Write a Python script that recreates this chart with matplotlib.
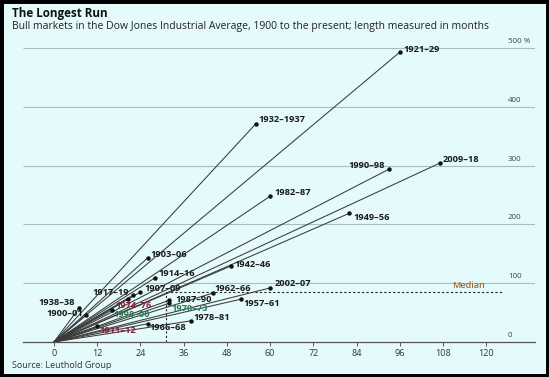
import matplotlib
matplotlib.use("Agg")
from matplotlib import pyplot as plt
from matplotlib.patches import Rectangle

plt.rcParams["font.family"] = ["Open Sans", "DejaVu Sans"]

# bull markets: label, length in months, gain in %
labels = ["1921–29", "1932–1937", "1990–98", "2009–18", "1982–87", "1949–56",
          "1903–06", "1914–16", "1942–46", "1907–09", "1917–19", "1974–76",
          "1998–00", "1938–38", "1900–01", "1911–12", "1966–68", "1987–90",
          "1970–73", "1962–66", "2002–07", "1957–61", "1978–81"]
months = [96, 56, 93, 107, 60, 82,
          26, 28, 49, 24, 22, 20.5,
          16, 7, 9, 12, 26, 32,
          32, 44, 60, 52, 38]
gains = [493, 371, 294, 304, 248, 219,
         143, 109, 129, 85, 80, 73,
         54, 58, 46, 27, 31, 71,
         66, 83, 92, 73, 36]

median_months = 31
median_gain = 85

x_ticks = [0, 12, 24, 36, 48, 60, 72, 84, 96, 108, 120]
y_ticks = [0, 100, 200, 300, 400, 500]

# label placement (pixel offset from dot, alignment) and colours
label_pos = {
    "1921–29": (4, 3, "left"), "1932–1937": (3, 4, "left"),
    "1990–98": (-4, 4, "right"), "2009–18": (3, 4, "left"),
    "1982–87": (4, 4, "left"), "1949–56": (4, -4, "left"),
    "1903–06": (3, 3, "left"), "1914–16": (4, 4, "left"),
    "1942–46": (4, 2, "left"), "1907–09": (4, 4, "left"),
    "1917–19": (-4, 2, "right"), "1974–76": (6, -6, "center"),
    "1998–00": (2, -4, "left"), "1938–38": (-4, 5, "right"),
    "1900–01": (-3, 1, "right"), "1911–12": (2, -4, "left"),
    "1966–68": (2, -4, "left"), "1987–90": (6, 1, "left"),
    "1970–73": (2, -5, "left"), "1962–66": (2, 5, "left"),
    "2002–07": (4, 4, "left"), "1957–61": (2, -4, "left"),
    "1978–81": (2, 3, "left"),
}
label_color = {"1974–76": "#8a2035", "1911–12": "#8a2035",
               "1998–00": "#2e7a50", "1970–73": "#2e7a50"}

bg = "#e4fafb"
W, H = 549, 377
fig = plt.figure(figsize=(W / 100, H / 100), dpi=100, facecolor=bg)
ax = fig.add_axes([23 / W, 1 - 342 / H, (535 - 23) / W, (342 - 40) / H])
ax.set_facecolor(bg)
ax.set_xlim(-8.6, 133.5)
ax.set_ylim(0, 513.6)

for s in ["top", "right", "left"]:
    ax.spines[s].set_visible(False)
ax.spines["bottom"].set_color("#555555")
ax.spines["bottom"].set_linewidth(0.9)
ax.set_yticks([])
ax.set_xticks(x_ticks)
ax.tick_params(axis="x", length=3, width=0.7, color="#555555",
               labelsize=6.5, labelcolor="#333333", pad=2)

# gridlines and right-hand labels
ax.hlines(y_ticks[1:], -8.6, 133.5, color="#a8bcc4", lw=0.8, zorder=1)
for v in y_ticks:
    txt = "500 %" if v == 500 else str(v)
    ax.text(126, v + 5, txt, fontsize=5.8, color="#444444", ha="left", va="bottom")

# median
ax.plot([median_months, median_months], [0, median_gain], ls=(0, (2, 2)),
        color="#222222", lw=0.8, zorder=2)
ax.plot([median_months, 124.5], [median_gain, median_gain], ls=(0, (2, 2)),
        color="#222222", lw=0.8, zorder=2)
ax.text(115, median_gain + 4, "Median", fontsize=6.5, color="#a5672f",
        ha="center", va="bottom", fontweight="semibold")

# rays from origin
for lab, m, g in zip(labels, months, gains):
    ax.plot([0, m], [0, g], color="#3a3a3a", lw=0.75, zorder=3)
    ax.plot(m, g, "o", ms=2.2, color="#111111", zorder=4)
    dx, dy, ha = label_pos[lab]
    ax.annotate(lab, (m, g), xytext=(dx, dy), textcoords="offset pixels",
                ha=ha, va="center", fontsize=6.7, fontweight="bold",
                color=label_color.get(lab, "#1a1a1a"), zorder=5)

fig.text(12 / W, 1 - 13 / H, "The Longest Run", fontsize=8.4, fontweight="bold",
         color="#111111", va="center")
fig.text(12 / W, 1 - 27 / H,
         "Bull markets in the Dow Jones Industrial Average, 1900 to the present; length measured in months",
         fontsize=7.5, color="#222222", va="center")
fig.text(12 / W, 1 - 366 / H, "Source: Leuthold Group", fontsize=6.5,
         color="#333333", va="center")

fig.patches.append(Rectangle((0, 0), 1, 1, transform=fig.transFigure, fill=False,
                             edgecolor="black", lw=5))

fig.savefig("out.png", dpi=100, facecolor=bg)
